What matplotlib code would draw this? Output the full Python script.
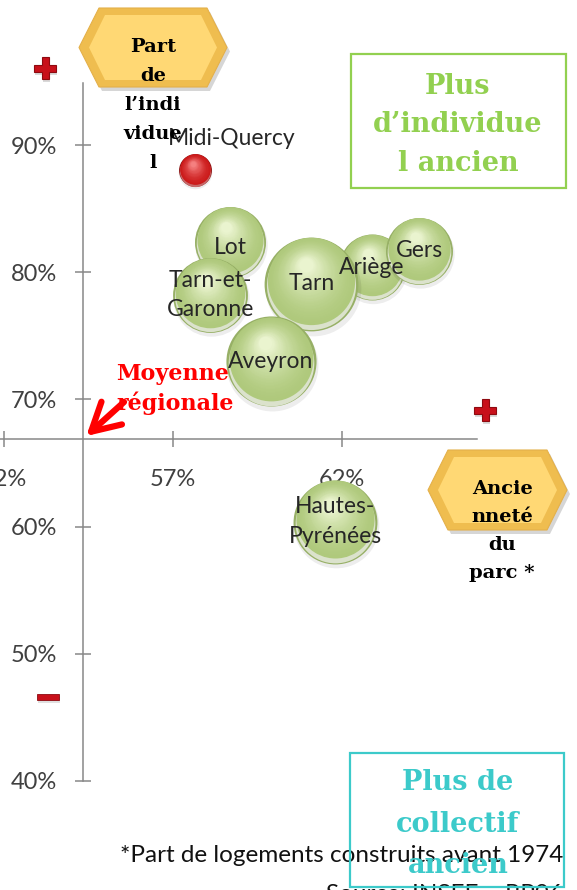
import numpy as np
import matplotlib
matplotlib.use('Agg')
import matplotlib.pyplot as plt
import matplotlib.transforms as mtransforms
from matplotlib.patches import Polygon, Rectangle
from matplotlib.colors import to_rgb

# Données
territoires = ['Ariège', 'Gers', 'Lot', 'Tarn-et-\nGaronne', 'Tarn', 'Aveyron',
               'Hautes-\nPyrénées', 'Midi-Quercy']
anciennete = [62.9, 64.3, 58.7, 58.1, 61.1, 59.9, 61.8, 57.65]        # % logements avant 1974
part_individuel = [80.4, 81.7, 82.4, 78.2, 79.1, 73.0, 60.4, 88.0]   # % maisons individuelles
poids = [10.9, 11.2, 12.6, 14.0, 22.0, 20.3, 17.6, 2.7]               # taille des bulles
moyenne = (54.34, 66.9)   # moyenne régionale = croisement des axes
x_ticks = [52, 57, 62]
y_ticks = [40, 50, 60, 70, 80, 90]

W, H = 577, 890
plt.rcParams['font.family'] = ['Lato', 'DejaVu Sans']

fig = plt.figure(figsize=(W / 100, H / 100), dpi=100)
fig.patch.set_facecolor('white')
ax = fig.add_axes([0, 0, 1, 1])
ax.set_xlim(51.876, 68.967)
ax.set_ylim(31.43, 101.40)
ax.patch.set_alpha(0)

# coordonnées pixel (origine en haut à gauche) pour les décorations
pix = mtransforms.Affine2D().scale(1 / W, -1 / H).translate(0, 1) + fig.transFigure

# axes qui se croisent sur la moyenne régionale
for s in ['top', 'right']:
    ax.spines[s].set_visible(False)
for s in ['left', 'bottom']:
    ax.spines[s].set_color('#878787')
    ax.spines[s].set_linewidth(1.1)
ax.spines['left'].set_position(('data', moyenne[0]))
ax.spines['bottom'].set_position(('data', moyenne[1]))
ax.spines['left'].set_bounds(40, 94.9)
ax.spines['bottom'].set_bounds(51.876, 66.0)

ax.set_xticks(x_ticks)
ax.set_xticklabels([f'{v}%' for v in x_ticks])
ax.set_yticks(y_ticks)
ax.set_yticklabels([f'{v}%' for v in y_ticks])
ax.tick_params(direction='inout', length=12, width=1.1, color='#878787',
               labelsize=17, labelcolor='#404040')
ax.tick_params(axis='y', pad=12.7)
ax.tick_params(axis='x', pad=15.5)


def mix(c1, c2, t):
    a, b = np.array(to_rgb(c1)), np.array(to_rgb(c2))
    return tuple(a + (b - a) * t)


def sphere(x, y, r, edge, body, light, reflet, z):
    rp = r * 0.72

    def off(dx, dy):
        return ax.transData + mtransforms.ScaledTranslation(dx / 72, dy / 72, fig.dpi_scale_trans)

    ax.scatter([x], [y], s=(2 * rp * 1.02) ** 2, color='black', alpha=0.07, lw=0,
               transform=off(rp * 0.03, -rp * 0.09), zorder=z)
    ax.scatter([x], [y], s=(2 * rp) ** 2, color=edge, lw=0, zorder=z)
    ax.scatter([x], [y], s=(2 * rp * 0.95) ** 2, color=reflet, lw=0,
               transform=off(0, -rp * 0.035), zorder=z)
    n = 36
    for i in range(n):
        t = i / (n - 1)
        rr = rp * (0.93 - 0.78 * t)
        ax.scatter([x], [y], s=(2 * rr) ** 2, color=mix(body, light, t ** 1.6), lw=0,
                   transform=off(-0.12 * rp * t, 0.06 * rp + 0.34 * rp * t), zorder=z)


for i, (nom, xv, yv, p) in enumerate(zip(territoires, anciennete, part_individuel, poids)):
    r = 10 * np.sqrt(p)
    if nom == 'Midi-Quercy':
        sphere(xv, yv, r, '#8a0f0f', '#cc1b1b', '#f58080', '#c66a6a', 10 + i)
        ax.annotate(nom, (xv, yv), xytext=(26.6, 23), textcoords='offset points',
                    ha='center', va='center', fontsize=16.5, color='#262626', zorder=60)
    else:
        sphere(xv, yv, r, '#97b066', '#afc97c', '#eaf4cf', '#dbe2cc', 10 + i)
        dy = -4 if nom == 'Lot' else 0
        ax.annotate(nom, (xv, yv), xytext=(0, dy), textcoords='offset points',
                    ha='center', va='center', fontsize=16.5, color='#262626',
                    linespacing=1.5, zorder=60)


# hexagones dorés
def hexagone(pts, inner, z=70):
    sh = [(px + 3, py + 4) for px, py in pts]
    fig.patches.append(Polygon(sh, closed=True, transform=pix, facecolor='black',
                               alpha=0.16, lw=0, zorder=z))
    fig.patches.append(Polygon(pts, closed=True, transform=pix, facecolor='#efbd4f',
                               edgecolor='#e4b04a', lw=0.8, zorder=z))
    fig.patches.append(Polygon(inner, closed=True, transform=pix, facecolor='#ffd874',
                               lw=0, zorder=z))


hexagone([(79, 47.5), (99, 8), (207, 8), (227, 47.5), (207, 87), (99, 87)],
         [(89, 47.5), (105, 15), (201, 15), (217, 47.5), (201, 80), (105, 80)])
hexagone([(428, 490), (448, 450), (547, 450), (567, 490), (547, 530), (448, 530)],
         [(438, 490), (454, 457), (541, 457), (557, 490), (541, 523), (454, 523)])

serif = ['DejaVu Serif']
fig.text(153, 105, 'Part\nde\nl’indi\nvidue\nl', transform=pix, ha='center', va='center',
         fontsize=14, fontweight='bold', family=serif, color='black', linespacing=1.80, zorder=80)
fig.text(502, 531, 'Ancie\nnneté\ndu\nparc *', transform=pix, ha='center', va='center',
         fontsize=14, fontweight='bold', family=serif, color='black', linespacing=1.70, zorder=80)


# croix et tiret rouges
def croix(cx, cy, a=11, b=3.5):
    pts = [(cx - b, cy - a), (cx + b, cy - a), (cx + b, cy - b), (cx + a, cy - b),
           (cx + a, cy + b), (cx + b, cy + b), (cx + b, cy + a), (cx - b, cy + a),
           (cx - b, cy + b), (cx - a, cy + b), (cx - a, cy - b), (cx - b, cy - b)]
    fig.patches.append(Polygon([(px + 1, py + 3) for px, py in pts], transform=pix,
                               facecolor='black', alpha=0.15, lw=0, zorder=70))
    fig.patches.append(Polygon(pts, transform=pix, facecolor='#c8101a',
                               edgecolor='#8e0a10', lw=0.8, zorder=71))


croix(45, 68)
croix(485, 410)
fig.patches.append(Rectangle((38, 697), 22, 6, transform=pix, facecolor='black',
                             alpha=0.12, lw=0, zorder=70))
fig.patches.append(Rectangle((37, 694), 22, 6, transform=pix, facecolor='#c8101a',
                             edgecolor='#8e0a10', lw=0.6, zorder=71))

# moyenne régionale
ax.annotate('', xy=moyenne, xycoords='data', xytext=(124, 402), textcoords=pix,
            arrowprops=dict(arrowstyle='->,head_length=1.0,head_width=0.55', lw=4.5,
                            color='#ff0000', mutation_scale=20, shrinkA=0, shrinkB=3),
            zorder=90)
fig.text(116, 389, 'Moyenne\nrégionale', transform=pix, ha='left', va='center',
         fontsize=16, fontweight='bold', family=serif, color='#ff0000',
         linespacing=1.33, zorder=91)

# notes
fig.text(563, 855, '*Part de logements construits avant 1974', transform=pix,
         ha='right', va='center', fontsize=17.5, color='#111111', zorder=85)
fig.text(563, 901, 'Source: INSEE – RP06', transform=pix,
         ha='right', va='baseline', fontsize=17.5, color='#111111', zorder=85)

# cadres
fig.patches.append(Rectangle((351, 54), 215, 134, transform=pix, fill=False,
                             edgecolor='#92d050', lw=1.6, zorder=86))
fig.text(458, 125, 'Plus\nd’individue\nl ancien', transform=pix, ha='center', va='center',
         fontsize=19.5, fontweight='bold', family=serif, color='#92d050',
         linespacing=1.56, zorder=87)
fig.patches.append(Rectangle((350, 753), 214, 134, transform=pix, fill=False,
                             edgecolor='#3ccaca', lw=1.6, zorder=86))
fig.text(458, 824, 'Plus de\ncollectif\nancien', transform=pix, ha='center', va='center',
         fontsize=19.5, fontweight='bold', family=serif, color='#3ccaca',
         linespacing=1.67, zorder=87)

fig.savefig('out.png', dpi=100)
